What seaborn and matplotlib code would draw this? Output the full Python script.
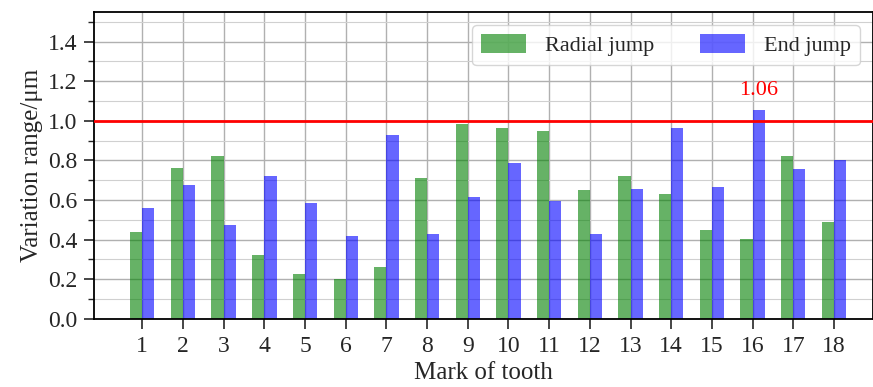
import pandas as pd
import numpy as np
import matplotlib
matplotlib.use("Agg")
import matplotlib.pyplot as plt
from matplotlib.ticker import MultipleLocator
import seaborn as sns

teeth = [str(i) for i in range(1, 19)]
radial_jump = [0.44, 0.76, 0.825, 0.325, 0.228, 0.20, 0.264, 0.711, 0.983,
               0.963, 0.949, 0.651, 0.722, 0.631, 0.447, 0.403, 0.824, 0.489]
end_jump = [0.558, 0.675, 0.475, 0.722, 0.584, 0.421, 0.929, 0.428, 0.614,
            0.787, 0.597, 0.431, 0.658, 0.966, 0.668, 1.056, 0.755, 0.804]
limit = 1.0

df = pd.DataFrame({
    "tooth": teeth * 2,
    "value": radial_jump + end_jump,
    "kind": ["Radial jump"] * 18 + ["End jump"] * 18,
})

sns.set_style("ticks")
plt.rcParams["font.family"] = ["Liberation Serif", "DejaVu Serif"]
plt.rcParams["mathtext.fontset"] = "stix"

fig = plt.figure(figsize=(8.73, 3.87), dpi=100)
ax = fig.add_axes([0.108, 0.176, 0.892, 0.793])

sns.barplot(data=df, x="tooth", y="value", hue="kind", order=teeth,
            palette=["green", "blue"], saturation=1, alpha=0.6,
            width=0.6, linewidth=0, errorbar=None, ax=ax)

ax.axhline(limit, color="red", linewidth=2, zorder=3)

imax = int(np.argmax(end_jump))
ax.text(imax + 0.15, end_jump[imax] + 0.05, f"{end_jump[imax]:.2f}",
        color="red", ha="center", va="bottom", fontsize=16)

ax.set_ylim(0, 1.55)
ax.set_xlim(-1.18, 17.96)
ax.yaxis.set_major_locator(MultipleLocator(0.2))
ax.yaxis.set_minor_locator(MultipleLocator(0.1))
ax.grid(which="major", color="#b0b0b0", linewidth=1.0, zorder=0)
ax.grid(which="minor", axis="y", color="#d0d0d0", linewidth=0.8, zorder=0)
ax.set_axisbelow(True)
ax.tick_params(axis="both", which="major", labelsize=17, length=7, width=1.2,
               pad=5)
ax.tick_params(axis="y", which="minor", length=4, width=1.0)
for s in ax.spines.values():
    s.set_linewidth(1.3)
    s.set_color("black")

ax.set_xlabel("Mark of tooth", fontsize=18, labelpad=4)
ax.set_ylabel("Variation range/μm", fontsize=18, labelpad=4)

ax.legend(loc="upper right", ncol=2, fontsize=16, handlelength=2.0,
          handleheight=0.9, handletextpad=0.85, columnspacing=2.1,
          borderaxespad=0.6, framealpha=0.8)

fig.savefig("out.png", dpi=100)
